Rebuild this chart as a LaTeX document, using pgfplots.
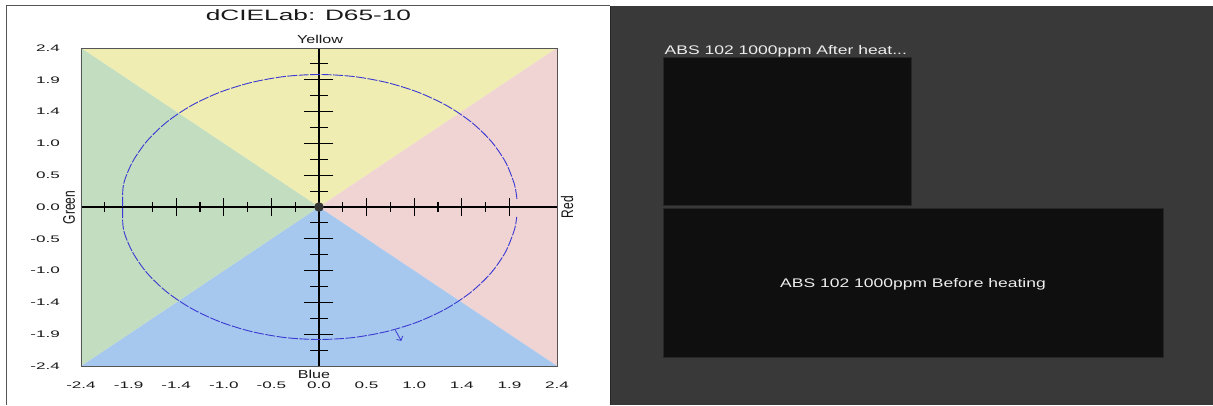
\documentclass[border=0pt]{standalone}
\usepackage{pgfplots}
\pgfplotsset{compat=1.18}
\usepackage{fontspec}
\setmainfont{Liberation Sans}
\newfontfamily\tickfont[FakeStretch=1.8]{Liberation Sans}
\newfontfamily\titlefont[FakeStretch=1.75]{Liberation Sans}
\newfontfamily\hueFont[FakeStretch=1.4]{Liberation Sans}
\newfontfamily\panelfont[FakeStretch=1.4]{Liberation Sans}
\usetikzlibrary{arrows.meta}

\definecolor{hueYellow}{HTML}{EFEDB2}
\definecolor{hueGreen}{HTML}{C2DDC0}
\definecolor{hueRed}{HTML}{F0D3D3}
\definecolor{hueBlue}{HTML}{A7C8EE}
\definecolor{tolBlue}{HTML}{3A3AD2}
\definecolor{frameGray}{HTML}{555555}
\definecolor{panelDark}{HTML}{393939}
\definecolor{boxBlack}{HTML}{0F0F0F}
\definecolor{boxEdge}{HTML}{262626}
\definecolor{panelText}{HTML}{EEEEEE}

\begin{document}
\begin{tikzpicture}[x=1pt,y=1pt]
\path[use as bounding box] (0pt,0pt) rectangle (1213pt,405pt);
\fill[white] (0pt,0pt) rectangle (1213pt,405pt);

% frame of the colour-difference window
\draw[frameGray, line width=1pt] (6.5pt,0pt) -- (6.5pt,399pt) -- (610pt,399pt);

% sample list panel
\fill[panelDark] (610pt,0pt) rectangle (1213pt,398.5pt);
\draw[black!85, line width=1.2pt] (610.5pt,0pt) -- (610.5pt,398.5pt);
\filldraw[fill=boxBlack, draw=boxEdge, line width=0.6pt] (663pt,199.3pt) rectangle (911pt,347.7pt);
\filldraw[fill=boxBlack, draw=boxEdge, line width=0.6pt] (663pt,47.7pt) rectangle (1163pt,196.7pt);
\node[anchor=base west, inner sep=0pt, text=panelText, font=\panelfont\fontsize{12.5}{14}\selectfont]
  at (664.5pt,350pt) {ABS 102 1000ppm After heat...};
\node[anchor=base, inner sep=0pt, text=panelText, font=\panelfont\fontsize{12.5}{14}\selectfont]
  at (913pt,117.5pt) {ABS 102 1000ppm Before heating};

\begin{axis}[
  at={(81pt,39pt)}, anchor=south west,
  scale only axis, width=476pt, height=318pt,
  xmin=-2.4, xmax=2.4, ymin=-2.4, ymax=2.4,
  axis on top,
  axis line style={draw=frameGray, line width=0.8pt},
  major tick length=0pt,
  xtick={-2.4,-1.92,-1.44,-0.96,-0.48,0,0.48,0.96,1.44,1.92,2.4},
  xticklabels={-2.4,-1.9,-1.4,-1.0,-0.5,0.0,0.5,1.0,1.4,1.9,2.4},
  ytick={-2.4,-1.92,-1.44,-0.96,-0.48,0,0.48,0.96,1.44,1.92,2.4},
  yticklabels={-2.4,-1.9,-1.4,-1.0,-0.5,0.0,0.5,1.0,1.4,1.9,2.4},
  every tick label/.append style={inner sep=0pt, text=black!90,
    font=\tickfont\fontsize{9.5}{10}\selectfont},
  xticklabel style={anchor=base, yshift=-22.5pt},
  yticklabel style={anchor=east, xshift=-21pt},
]
% hue sectors
\addplot[draw=none, fill=hueYellow] coordinates {(0,0) (-2.4,2.4) (2.4,2.4) (0,0)};
\addplot[draw=none, fill=hueRed]    coordinates {(0,0) (2.4,2.4) (2.4,-2.4) (0,0)};
\addplot[draw=none, fill=hueBlue]   coordinates {(0,0) (2.4,-2.4) (-2.4,-2.4) (0,0)};
\addplot[draw=none, fill=hueGreen]  coordinates {(0,0) (-2.4,-2.4) (-2.4,2.4) (0,0)};

% a*/b* cross
\addplot[black, line width=1.2pt] coordinates {(-2.4,0) (2.4,0)};
\addplot[black, line width=1.2pt] coordinates {(0,-2.4) (0,2.4)};

% cross ticks: a* axis
\addplot[only marks, mark=|, mark size=9pt, mark options={line width=1.1pt, black}]
  coordinates {(-1.44,0) (-0.96,0) (-0.48,0) (0.48,0) (0.96,0) (1.44,0) (1.92,0)};
\addplot[only marks, mark=|, mark size=5pt, mark options={line width=1.1pt, black}]
  coordinates {(-2.16,0) (-1.68,0) (-1.2,0) (-0.72,0) (-0.24,0) (0.24,0) (0.72,0) (1.2,0) (1.68,0)};
% cross ticks: b* axis
\addplot[only marks, mark=-, mark size=14.5pt, mark options={line width=1.1pt, black}]
  coordinates {(0,1.92) (0,1.44) (0,0.96) (0,0.48) (0,-0.48) (0,-0.96) (0,-1.44) (0,-1.92)};
\addplot[only marks, mark=-, mark size=9pt, mark options={line width=1.1pt, black}]
  coordinates {(0,2.16) (0,1.68) (0,1.2) (0,0.72) (0,0.24) (0,-0.24) (0,-0.72) (0,-1.2) (0,-1.68) (0,-2.16)};

% tolerance contour
\addplot[tolBlue, line width=0.9pt, smooth, dash pattern=on 10pt off 1.5pt] coordinates {
  (1.996,0.122) (1.970,0.347) (1.879,0.684) (1.732,1.000) (1.532,1.286)
  (1.286,1.532) (1.000,1.732) (0.684,1.879) (0.347,1.970) (0,2.000)
  (-0.347,1.970) (-0.684,1.879) (-1.000,1.732) (-1.286,1.532) (-1.532,1.286)
  (-1.732,1.000) (-1.879,0.684) (-1.970,0.347) (-1.980,0) (-1.970,-0.347)
  (-1.879,-0.684) (-1.732,-1.000) (-1.532,-1.286) (-1.286,-1.532) (-1.000,-1.732)
  (-0.684,-1.879) (-0.347,-1.970) (0,-2.000) (0.347,-1.970) (0.684,-1.879)
  (1.000,-1.732) (1.286,-1.532) (1.532,-1.286) (1.732,-1.000) (1.879,-0.684)
  (1.970,-0.347) (1.994,-0.150)};
\addplot[tolBlue, line width=0.8pt, -{Straight Barb[length=3pt, width=7pt]}]
  coordinates {(0.77,-1.86) (0.83,-2.02)};

% standard position
\addplot[only marks, mark=*, mark size=4.5pt, mark options={fill=black!80, draw=black!80}]
  coordinates {(0,0)};
\end{axis}

% title and hue names
\node[anchor=base, inner sep=0pt, font=\titlefont\fontsize{15}{17}\selectfont, text=black!90]
  at (308.5pt,384.7pt) {dCIELab: D65-10};
\node[anchor=base, inner sep=0pt, font=\hueFont\fontsize{11.5}{13}\selectfont, text=black!90]
  at (320pt,361.3pt) {Yellow};
\node[anchor=base, inner sep=0pt, font=\hueFont\fontsize{11.5}{13}\selectfont, text=black!90]
  at (314pt,26.7pt) {Blue};
\node[xscale=1.4, rotate=90, inner sep=0pt, font=\fontsize{12}{14}\selectfont, text=black!90]
  at (69pt,197.5pt) {Green};
\node[xscale=1.4, rotate=90, inner sep=0pt, font=\fontsize{12}{14}\selectfont, text=black!90]
  at (567pt,198pt) {Red};
\end{tikzpicture}
\end{document}
